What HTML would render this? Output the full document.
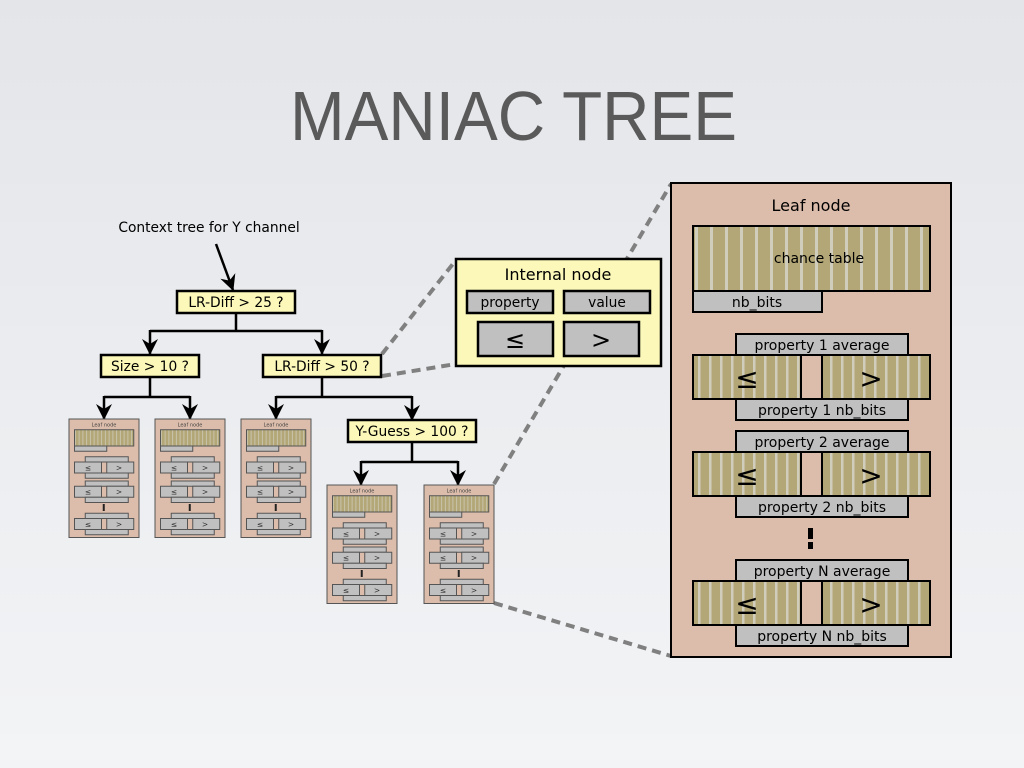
<!DOCTYPE html>
<html><head><meta charset="utf-8"><style>
html,body{margin:0;padding:0;width:1024px;height:768px;overflow:hidden}
body{background:linear-gradient(#e3e5e9,#f3f4f6);font-family:"DejaVu Sans","Liberation Sans",sans-serif}
</style></head><body>
<svg width="1024" height="768" viewBox="0 0 1024 768" xmlns="http://www.w3.org/2000/svg" font-family="DejaVu Sans, Liberation Sans, sans-serif">
<defs>
<pattern id="st" width="15" height="10" patternUnits="userSpaceOnUse" x="693"><rect width="15" height="10" fill="#b3a777"/><rect x="6" width="3" height="10" fill="#d0cdbd"/></pattern>
<pattern id="st2" width="11" height="10" patternUnits="userSpaceOnUse"><rect width="11" height="10" fill="#b3a777"/><rect x="5" width="2.5" height="10" fill="#d0cdbd"/></pattern>
<marker id="ah" viewBox="0 0 16 16" refX="15" refY="8" markerWidth="16" markerHeight="16" orient="auto" markerUnits="userSpaceOnUse"><path d="M0,0 L16,8 L0,16 L5,8z" fill="#000"/></marker>
</defs>
<text x="290" y="140" textLength="447" lengthAdjust="spacingAndGlyphs" font-family="Liberation Sans, sans-serif" font-size="70" fill="#5a5a5a">MANIAC  TREE</text>

<g stroke="#808080" stroke-width="4" stroke-dasharray="9,6" fill="none">
<line x1="382" y1="354" x2="456" y2="260"/>
<line x1="382" y1="376" x2="456" y2="364"/>
<line x1="494" y1="484" x2="671" y2="184"/>
<line x1="494" y1="603" x2="671" y2="656"/>
</g>

<text x="209" y="232" text-anchor="middle" font-size="13.8">Context tree for Y channel</text>
<g stroke="#000" stroke-width="2.5" fill="none">
<line x1="216" y1="244" x2="233" y2="290" marker-end="url(#ah)"/>
<polyline points="236,313 236,331"/><line x1="150" y1="331" x2="322" y2="331"/>
<line x1="150" y1="330" x2="150" y2="354" marker-end="url(#ah)"/><line x1="322" y1="330" x2="322" y2="354" marker-end="url(#ah)"/>
<line x1="150" y1="377" x2="150" y2="397"/><line x1="104" y1="397" x2="190" y2="397"/>
<line x1="104" y1="396" x2="104" y2="419" marker-end="url(#ah)"/><line x1="190" y1="396" x2="190" y2="419" marker-end="url(#ah)"/>
<line x1="322" y1="377" x2="322" y2="397"/><line x1="276" y1="397" x2="412" y2="397"/>
<line x1="276" y1="396" x2="276" y2="419" marker-end="url(#ah)"/><line x1="412" y1="396" x2="412" y2="420" marker-end="url(#ah)"/>
<line x1="412" y1="442" x2="412" y2="462"/><line x1="361" y1="462" x2="458" y2="462"/>
<line x1="361" y1="461" x2="361" y2="485" marker-end="url(#ah)"/><line x1="458" y1="461" x2="458" y2="485" marker-end="url(#ah)"/>
</g>
<g fill="#fbf8b9" stroke="#000" stroke-width="2.5">
<rect x="177" y="291" width="118" height="22"/><rect x="101" y="355" width="98" height="22"/>
<rect x="263" y="355" width="118" height="22"/><rect x="348" y="420" width="128" height="22"/>
</g>
<g font-size="13.8" text-anchor="middle">
<text x="236" y="307">LR-Diff &gt; 25 ?</text><text x="150" y="371">Size &gt; 10 ?</text>
<text x="322" y="371">LR-Diff &gt; 50 ?</text><text x="412" y="436">Y-Guess &gt; 100 ?</text>
</g>

<rect x="456" y="259" width="205" height="107" fill="#fbf8b9" stroke="#000" stroke-width="2.5"/>
<text x="558" y="280" text-anchor="middle" font-size="16">Internal node</text>
<g fill="#c0c0c0" stroke="#000" stroke-width="2.5">
<rect x="467" y="291" width="86" height="22"/><rect x="564" y="291" width="86" height="22"/>
<rect x="478" y="322" width="75" height="34"/><rect x="564" y="322" width="75" height="34"/>
</g>
<text x="510" y="307" text-anchor="middle" font-size="13.8">property</text>
<text x="607" y="307" text-anchor="middle" font-size="13.8">value</text>
<text x="515" y="348" text-anchor="middle" font-size="24">≤</text>
<text x="601" y="348" text-anchor="middle" font-size="24">&gt;</text>

<g transform="translate(671,183)">
<rect x="0" y="0" width="280" height="474" fill="#dcbdab" stroke="#000" stroke-width="2"/>
<text x="140" y="28" text-anchor="middle" font-size="16">Leaf node</text>
<g stroke="#000" stroke-width="2">
<rect x="22" y="43" width="237" height="65" fill="url(#st)"/>
<rect x="22" y="108" width="129" height="21" fill="#c0c0c0"/>
<rect x="65" y="151" width="172" height="21" fill="#c0c0c0"/>
<rect x="22" y="172" width="108" height="44" fill="url(#st2)"/><rect x="151" y="172" width="108" height="44" fill="url(#st2)"/>
<rect x="65" y="216" width="172" height="21" fill="#c0c0c0"/>
<rect x="65" y="248" width="172" height="21" fill="#c0c0c0"/>
<rect x="22" y="269" width="108" height="44" fill="url(#st2)"/><rect x="151" y="269" width="108" height="44" fill="url(#st2)"/>
<rect x="65" y="313" width="172" height="21" fill="#c0c0c0"/>
<rect x="65" y="377" width="172" height="21" fill="#c0c0c0"/>
<rect x="22" y="398" width="108" height="44" fill="url(#st2)"/><rect x="151" y="398" width="108" height="44" fill="url(#st2)"/>
<rect x="65" y="442" width="172" height="21" fill="#c0c0c0"/>
</g>
<rect x="137" y="345" width="5" height="11" fill="#000"/>
<rect x="137" y="359" width="5" height="7" fill="#000"/>
<g font-size="14" text-anchor="middle">
<text x="148" y="80">chance table</text><text x="86" y="124">nb_bits</text>
<text x="151" y="167">property 1 average</text><text x="151" y="232">property 1 nb_bits</text>
<text x="151" y="264">property 2 average</text><text x="151" y="329">property 2 nb_bits</text>
<text x="151" y="393">property N average</text><text x="151" y="458">property N nb_bits</text>
</g>
<g font-size="28" text-anchor="middle">
<text x="76" y="205">≤</text><text x="200" y="205">&gt;</text>
<text x="76" y="302">≤</text><text x="200" y="302">&gt;</text>
<text x="76" y="431">≤</text><text x="200" y="431">&gt;</text>
</g>
</g>

<g transform="translate(69,419) scale(0.25)">
<rect x="0" y="0" width="280" height="474" fill="#dcbdab" stroke="#555" stroke-width="4"/>
<text x="140" y="30" text-anchor="middle" font-size="20" fill="#444">Leaf node</text>
<g stroke="#555" stroke-width="4" fill="#c0c0c0">
<rect x="22" y="43" width="237" height="65" fill="url(#st)"/>
<rect x="22" y="108" width="129" height="21"/>
<rect x="65" y="151" width="172" height="21"/><rect x="22" y="172" width="108" height="44"/><rect x="151" y="172" width="108" height="44"/><rect x="65" y="216" width="172" height="21"/>
<rect x="65" y="248" width="172" height="21"/><rect x="22" y="269" width="108" height="44"/><rect x="151" y="269" width="108" height="44"/><rect x="65" y="313" width="172" height="21"/>
<rect x="65" y="377" width="172" height="21"/><rect x="22" y="398" width="108" height="44"/><rect x="151" y="398" width="108" height="44"/><rect x="65" y="442" width="172" height="21"/>
</g>
<rect x="135" y="340" width="8" height="28" fill="#222"/>
<g font-size="30" text-anchor="middle" fill="#333"><text x="76" y="205">≤</text><text x="200" y="205">&gt;</text><text x="76" y="302">≤</text><text x="200" y="302">&gt;</text><text x="76" y="431">≤</text><text x="200" y="431">&gt;</text></g>
</g>
<g transform="translate(155,419) scale(0.25)">
<rect x="0" y="0" width="280" height="474" fill="#dcbdab" stroke="#555" stroke-width="4"/>
<text x="140" y="30" text-anchor="middle" font-size="20" fill="#444">Leaf node</text>
<g stroke="#555" stroke-width="4" fill="#c0c0c0">
<rect x="22" y="43" width="237" height="65" fill="url(#st)"/>
<rect x="22" y="108" width="129" height="21"/>
<rect x="65" y="151" width="172" height="21"/><rect x="22" y="172" width="108" height="44"/><rect x="151" y="172" width="108" height="44"/><rect x="65" y="216" width="172" height="21"/>
<rect x="65" y="248" width="172" height="21"/><rect x="22" y="269" width="108" height="44"/><rect x="151" y="269" width="108" height="44"/><rect x="65" y="313" width="172" height="21"/>
<rect x="65" y="377" width="172" height="21"/><rect x="22" y="398" width="108" height="44"/><rect x="151" y="398" width="108" height="44"/><rect x="65" y="442" width="172" height="21"/>
</g>
<rect x="135" y="340" width="8" height="28" fill="#222"/>
<g font-size="30" text-anchor="middle" fill="#333"><text x="76" y="205">≤</text><text x="200" y="205">&gt;</text><text x="76" y="302">≤</text><text x="200" y="302">&gt;</text><text x="76" y="431">≤</text><text x="200" y="431">&gt;</text></g>
</g>
<g transform="translate(241,419) scale(0.25)">
<rect x="0" y="0" width="280" height="474" fill="#dcbdab" stroke="#555" stroke-width="4"/>
<text x="140" y="30" text-anchor="middle" font-size="20" fill="#444">Leaf node</text>
<g stroke="#555" stroke-width="4" fill="#c0c0c0">
<rect x="22" y="43" width="237" height="65" fill="url(#st)"/>
<rect x="22" y="108" width="129" height="21"/>
<rect x="65" y="151" width="172" height="21"/><rect x="22" y="172" width="108" height="44"/><rect x="151" y="172" width="108" height="44"/><rect x="65" y="216" width="172" height="21"/>
<rect x="65" y="248" width="172" height="21"/><rect x="22" y="269" width="108" height="44"/><rect x="151" y="269" width="108" height="44"/><rect x="65" y="313" width="172" height="21"/>
<rect x="65" y="377" width="172" height="21"/><rect x="22" y="398" width="108" height="44"/><rect x="151" y="398" width="108" height="44"/><rect x="65" y="442" width="172" height="21"/>
</g>
<rect x="135" y="340" width="8" height="28" fill="#222"/>
<g font-size="30" text-anchor="middle" fill="#333"><text x="76" y="205">≤</text><text x="200" y="205">&gt;</text><text x="76" y="302">≤</text><text x="200" y="302">&gt;</text><text x="76" y="431">≤</text><text x="200" y="431">&gt;</text></g>
</g>
<g transform="translate(327,485) scale(0.25)">
<rect x="0" y="0" width="280" height="474" fill="#dcbdab" stroke="#555" stroke-width="4"/>
<text x="140" y="30" text-anchor="middle" font-size="20" fill="#444">Leaf node</text>
<g stroke="#555" stroke-width="4" fill="#c0c0c0">
<rect x="22" y="43" width="237" height="65" fill="url(#st)"/>
<rect x="22" y="108" width="129" height="21"/>
<rect x="65" y="151" width="172" height="21"/><rect x="22" y="172" width="108" height="44"/><rect x="151" y="172" width="108" height="44"/><rect x="65" y="216" width="172" height="21"/>
<rect x="65" y="248" width="172" height="21"/><rect x="22" y="269" width="108" height="44"/><rect x="151" y="269" width="108" height="44"/><rect x="65" y="313" width="172" height="21"/>
<rect x="65" y="377" width="172" height="21"/><rect x="22" y="398" width="108" height="44"/><rect x="151" y="398" width="108" height="44"/><rect x="65" y="442" width="172" height="21"/>
</g>
<rect x="135" y="340" width="8" height="28" fill="#222"/>
<g font-size="30" text-anchor="middle" fill="#333"><text x="76" y="205">≤</text><text x="200" y="205">&gt;</text><text x="76" y="302">≤</text><text x="200" y="302">&gt;</text><text x="76" y="431">≤</text><text x="200" y="431">&gt;</text></g>
</g>
<g transform="translate(424,485) scale(0.25)">
<rect x="0" y="0" width="280" height="474" fill="#dcbdab" stroke="#555" stroke-width="4"/>
<text x="140" y="30" text-anchor="middle" font-size="20" fill="#444">Leaf node</text>
<g stroke="#555" stroke-width="4" fill="#c0c0c0">
<rect x="22" y="43" width="237" height="65" fill="url(#st)"/>
<rect x="22" y="108" width="129" height="21"/>
<rect x="65" y="151" width="172" height="21"/><rect x="22" y="172" width="108" height="44"/><rect x="151" y="172" width="108" height="44"/><rect x="65" y="216" width="172" height="21"/>
<rect x="65" y="248" width="172" height="21"/><rect x="22" y="269" width="108" height="44"/><rect x="151" y="269" width="108" height="44"/><rect x="65" y="313" width="172" height="21"/>
<rect x="65" y="377" width="172" height="21"/><rect x="22" y="398" width="108" height="44"/><rect x="151" y="398" width="108" height="44"/><rect x="65" y="442" width="172" height="21"/>
</g>
<rect x="135" y="340" width="8" height="28" fill="#222"/>
<g font-size="30" text-anchor="middle" fill="#333"><text x="76" y="205">≤</text><text x="200" y="205">&gt;</text><text x="76" y="302">≤</text><text x="200" y="302">&gt;</text><text x="76" y="431">≤</text><text x="200" y="431">&gt;</text></g>
</g>
</svg>
</body></html>
